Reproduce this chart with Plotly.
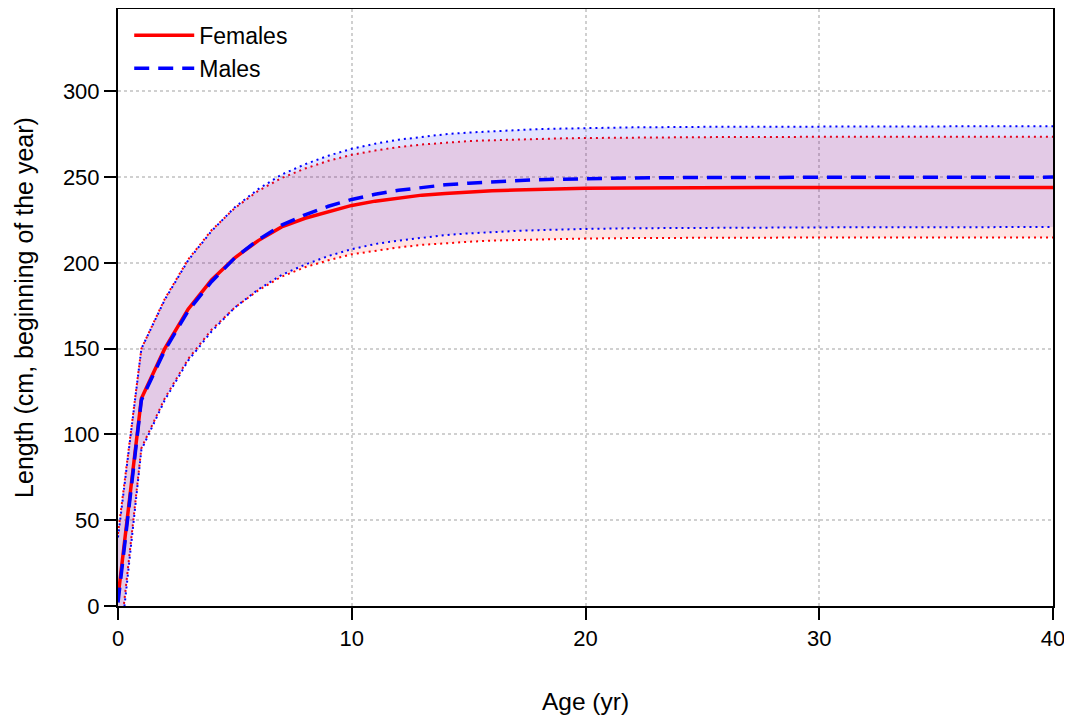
import plotly.graph_objects as go

# ages (yr)
ages = [0, 1, 2, 3, 4, 5, 6, 7, 8, 9, 10, 11, 12, 13, 14, 15, 16, 17, 18, 19, 20,
        22, 25, 30, 35, 40]

# females: mean length and interval bounds (cm)
fem_mean = [5, 121, 150, 173, 190, 203, 213, 221, 226, 230, 233.5, 236, 238, 239.5,
            240.5, 241.5, 242, 242.5, 243, 243.2, 243.5, 243.7, 243.9, 244, 244, 244]
fem_upper = [42, 150, 179, 202, 219, 232, 242, 249.5, 255, 259.5, 263, 265.5, 267.5,
             269, 270, 271, 271.5, 272, 272.3, 272.6, 272.8, 273.1, 273.3, 273.5,
             273.5, 273.5]
fem_lower = [-30, 92, 121, 144, 161, 174, 184, 192, 197.5, 201.5, 205, 207, 209, 210.5,
             211.5, 212.3, 213, 213.4, 213.8, 214, 214.2, 214.5, 214.7, 214.8, 214.8,
             214.8]

# males
male_mean = [2, 120, 149, 172, 189, 203, 213.5, 222, 228, 233, 237, 240, 242.3, 244,
             245.5, 246.5, 247.3, 248, 248.5, 248.8, 249.1, 249.5, 249.8, 250, 250, 250]
male_upper = [40, 150, 178.5, 201.5, 218.5, 232.5, 243, 251.5, 257.5, 262.5, 266.5,
              269.5, 271.8, 273.5, 275, 276, 276.8, 277.5, 278, 278.3, 278.6, 279,
              279.3, 279.5, 279.6, 279.7]
male_lower = [-35, 91, 120, 143, 160, 174, 184.5, 193, 199, 204, 208, 211, 213, 214.8,
              216.2, 217.2, 218, 218.6, 219.1, 219.5, 219.8, 220.2, 220.5, 220.7, 220.8,
              220.9]

x_ticks = [0, 10, 20, 30, 40]
y_ticks = [0, 50, 100, 150, 200, 250, 300]

DOT = "2px,4px"

fig = go.Figure()

# interval bands
fig.add_trace(go.Scatter(x=ages, y=fem_lower, mode="lines", showlegend=False,
                         line=dict(color="red", width=2, dash=DOT)))
fig.add_trace(go.Scatter(x=ages, y=fem_upper, mode="lines", showlegend=False,
                         fill="tonexty", fillcolor="rgba(255,0,0,0.11)",
                         line=dict(color="red", width=2, dash=DOT)))
fig.add_trace(go.Scatter(x=ages, y=male_lower, mode="lines", showlegend=False,
                         line=dict(color="blue", width=2, dash=DOT)))
fig.add_trace(go.Scatter(x=ages, y=male_upper, mode="lines", showlegend=False,
                         fill="tonexty", fillcolor="rgba(0,0,255,0.11)",
                         line=dict(color="blue", width=2, dash=DOT)))

# mean curves
fig.add_trace(go.Scatter(x=ages, y=fem_mean, mode="lines", name="Females",
                         line=dict(color="red", width=3.5)))
fig.add_trace(go.Scatter(x=ages, y=male_mean, mode="lines", name="Males",
                         line=dict(color="blue", width=3.5, dash="15px,9px")))

axis_common = dict(
    showline=True, mirror=True, linecolor="black", linewidth=2,
    ticks="outside", ticklen=12, tickwidth=2, tickcolor="black",
    showgrid=True, gridcolor="#d0d0d0", griddash="dot", gridwidth=1.5,
    zeroline=False, tickfont=dict(size=22, color="black"),
)

fig.update_xaxes(range=[0, 40], tickvals=x_ticks,
                 title=dict(text="Age (yr)", font=dict(size=24.5, color="black"),
                            standoff=42),
                 **axis_common)
fig.update_yaxes(range=[0, 348], tickvals=y_ticks,
                 title=dict(text="Length (cm, beginning of the year)",
                            font=dict(size=25, color="black"), standoff=22),
                 **axis_common)

# the page adds an 8px body margin, so the figure is sized to fit after it
fig.update_layout(
    width=1064, height=714,
    margin=dict(l=110, r=19, t=1, b=116, autoexpand=False),
    plot_bgcolor="white", paper_bgcolor="white",
    font=dict(family="Liberation Sans, Arial, sans-serif", color="black"),
    legend=dict(x=0.012, y=0.992, xanchor="left", yanchor="top",
                traceorder="normal", itemwidth=60, tracegroupgap=0,
                bgcolor="rgba(0,0,0,0)", font=dict(size=23)),
)

fig.write_html("out.html")
